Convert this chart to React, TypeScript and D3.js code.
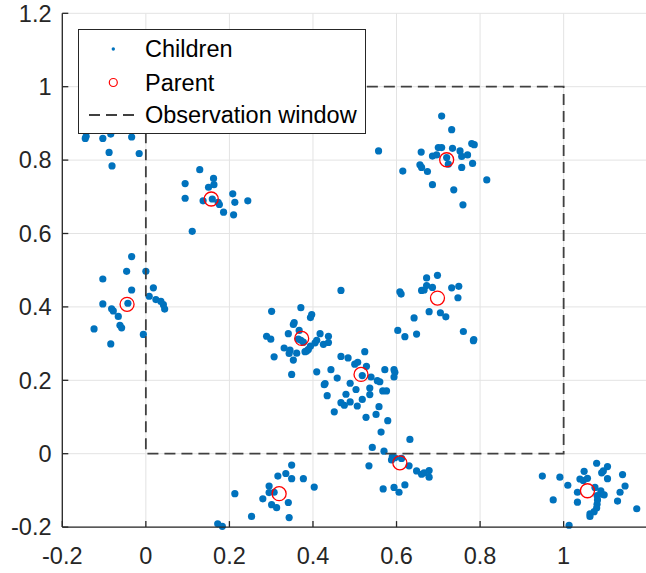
import React from "react";
import * as d3 from "d3";

// ---- data ----
const xTicks = [-0.2, 0, 0.2, 0.4, 0.6, 0.8, 1, 1.2];
const xTickLabels = ["-0.2", "0", "0.2", "0.4", "0.6", "0.8", "1", ""];
const yTicks = [-0.2, 0, 0.2, 0.4, 0.6, 0.8, 1, 1.2];
const yTickLabels = ["-0.2", "0", "0.2", "0.4", "0.6", "0.8", "1", "1.2"];

const parents: [number, number][] = [
  [0.1565, 0.694], [-0.045, 0.407], [0.373, 0.314], [0.515, 0.216], [0.608, -0.025],
  [0.319, -0.109], [0.72, 0.801], [0.698, 0.424], [1.057, -0.101],
];

const clusterA: [number, number][] = [
  [-0.145, 0.859], [-0.143, 0.865], [-0.103, 0.859], [-0.084, 0.871], [-0.034, 0.863],
  [-0.088, 0.821], [-0.016, 0.818], [-0.081, 0.784],
];
const clusterB: [number, number][] = [
  [0.129, 0.774], [0.162, 0.75], [0.163, 0.733], [0.15, 0.726], [0.094, 0.736], [0.094, 0.696],
  [0.137, 0.689], [0.159, 0.694], [0.173, 0.685], [0.176, 0.679], [0.208, 0.708], [0.213, 0.685],
  [0.244, 0.689], [0.186, 0.658], [0.21, 0.651], [0.111, 0.606],
];
const clusterC: [number, number][] = [
  [-0.034, 0.537], [-0.046, 0.497], [0.0, 0.497], [-0.103, 0.476], [-0.034, 0.446], [0.018, 0.452],
  [0.008, 0.429], [0.024, 0.42], [0.036, 0.415], [0.042, 0.406], [0.045, 0.394], [-0.103, 0.408],
  [-0.043, 0.41], [-0.082, 0.395], [-0.078, 0.389], [-0.066, 0.374], [-0.062, 0.35], [-0.058, 0.343],
  [-0.124, 0.34], [-0.006, 0.325], [-0.084, 0.299],
];
const clusterD: [number, number][] = [
  [0.467, 0.445], [0.301, 0.388], [0.371, 0.398], [0.397, 0.379], [0.394, 0.371], [0.355, 0.357],
  [0.353, 0.352], [0.289, 0.32], [0.299, 0.312], [0.341, 0.327], [0.367, 0.336], [0.365, 0.312],
  [0.371, 0.309], [0.417, 0.327], [0.437, 0.32], [0.409, 0.309], [0.405, 0.302], [0.425, 0.298],
  [0.437, 0.303], [0.394, 0.293], [0.389, 0.284], [0.381, 0.278], [0.331, 0.288], [0.345, 0.282],
  [0.343, 0.273], [0.361, 0.274], [0.307, 0.264], [0.353, 0.255], [0.349, 0.216], [0.377, 0.304],
  [0.385, 0.28],
];
const clusterE: [number, number][] = [
  [0.467, 0.265], [0.484, 0.261], [0.524, 0.278], [0.5, 0.244], [0.507, 0.249], [0.528, 0.238],
  [0.518, 0.213], [0.409, 0.223], [0.443, 0.229], [0.458, 0.206], [0.429, 0.191], [0.427, 0.188],
  [0.489, 0.192], [0.539, 0.209], [0.554, 0.199], [0.56, 0.196], [0.572, 0.229], [0.594, 0.229],
  [0.596, 0.222], [0.594, 0.209], [0.503, 0.175], [0.536, 0.179], [0.567, 0.171], [0.576, 0.171],
  [0.434, 0.158], [0.479, 0.162], [0.518, 0.148], [0.536, 0.161], [0.467, 0.139], [0.475, 0.132],
  [0.489, 0.141], [0.506, 0.13], [0.558, 0.128], [0.451, 0.114], [0.551, 0.107], [0.527, 0.099],
  [0.579, 0.09], [0.563, 0.059],
];
const clusterF: [number, number][] = [
  [0.632, 0.039], [0.542, 0.017], [0.57, 0.007], [0.59, -0.008], [0.588, -0.017], [0.596, -0.011],
  [0.612, -0.013], [0.534, -0.033], [0.63, -0.033], [0.648, -0.047], [0.66, -0.056], [0.666, -0.052],
  [0.678, -0.046], [0.678, -0.064], [0.62, -0.085], [0.594, -0.092], [0.568, -0.096], [0.606, -0.105],
];
const clusterG: [number, number][] = [
  [0.349, -0.031], [0.335, -0.054], [0.316, -0.061], [0.349, -0.068], [0.377, -0.068], [0.295, -0.088],
  [0.295, -0.106], [0.307, -0.105], [0.403, -0.091], [0.213, -0.109], [0.28, -0.123], [0.301, -0.139],
  [0.313, -0.147], [0.341, -0.133], [0.253, -0.171], [0.343, -0.174], [0.172, -0.191], [0.183, -0.198],
];
const clusterH: [number, number][] = [
  [0.708, 0.92], [0.732, 0.883], [0.557, 0.825], [0.659, 0.822], [0.7, 0.834], [0.708, 0.834],
  [0.734, 0.832], [0.752, 0.825], [0.756, 0.81], [0.77, 0.814], [0.78, 0.845], [0.786, 0.842],
  [0.686, 0.811], [0.696, 0.814], [0.72, 0.807], [0.724, 0.789], [0.656, 0.787], [0.66, 0.78],
  [0.674, 0.769], [0.615, 0.77], [0.756, 0.78], [0.782, 0.791], [0.816, 0.746], [0.686, 0.733],
  [0.737, 0.719], [0.759, 0.678],
];
const clusterI: [number, number][] = [
  [0.672, 0.479], [0.698, 0.486], [0.672, 0.458], [0.66, 0.445], [0.666, 0.446], [0.686, 0.453],
  [0.732, 0.452], [0.749, 0.456], [0.747, 0.425], [0.608, 0.441], [0.611, 0.435], [0.678, 0.387],
  [0.705, 0.384], [0.718, 0.373], [0.642, 0.37], [0.603, 0.336], [0.62, 0.319], [0.648, 0.326],
  [0.76, 0.333], [0.785, 0.311], [0.784, 0.308],
];
const clusterJ: [number, number][] = [
  [0.949, -0.061], [0.991, -0.064], [1.01, -0.086], [0.975, -0.126], [1.033, -0.105], [1.033, -0.132],
  [1.079, -0.026], [1.049, -0.048], [1.039, -0.069], [1.047, -0.073], [1.057, -0.067], [1.075, -0.092],
  [1.091, -0.052], [1.095, -0.047], [1.105, -0.035], [1.105, -0.068], [1.141, -0.057], [1.147, -0.088],
  [1.135, -0.105], [1.129, -0.129], [1.175, -0.15], [1.089, -0.101], [1.091, -0.11], [1.097, -0.112],
  [1.08, -0.114], [1.081, -0.126], [1.08, -0.138], [1.079, -0.148], [1.073, -0.158], [1.063, -0.164],
  [1.063, -0.171], [1.013, -0.195],
];

const children = [
  ...clusterA, ...clusterB, ...clusterC, ...clusterD, ...clusterE,
  ...clusterF, ...clusterG, ...clusterH, ...clusterI, ...clusterJ,
];

const windowBox = { x0: 0, x1: 1, y0: 0, y1: 1 };
const legendLabels = ["Children", "Parent", "Observation window"];

const W = 646;
const H = 573;
const FONT = "'Liberation Sans', Arial, Helvetica, sans-serif";
const AX = "#262626";
const BLUE = "#0072BD";

export default function App() {
  const x = d3.scaleLinear().domain([-0.2, 1.2]).range([62.3, 647.2]);
  const y = d3.scaleLinear().domain([-0.2, 1.2]).range([527.1, 13.3]);
  const [x0, x1] = x.range();
  const [y0, y1] = y.range();

  const lx = 78.5, ly = 29.5, lw = 287, lh = 104;
  const rows = [49, 82.5, 115];

  return (
    <svg width={W} height={H} style={{ position: "absolute", left: 0, top: 0, background: "#fff" }}>
      <rect x={0} y={0} width={W} height={H} fill="#fff" />
      {/* grid */}
      <g stroke="#e3e3e3" strokeWidth={1}>
        {xTicks.map((t) => (
          <line key={"gx" + t} x1={x(t)} x2={x(t)} y1={y0} y2={y1} />
        ))}
        {yTicks.map((t) => (
          <line key={"gy" + t} x1={x0} x2={x1} y1={y(t)} y2={y(t)} />
        ))}
      </g>
      {/* children */}
      <g fill={BLUE}>
        {children.map((d, i) => (
          <circle key={"c" + i} cx={x(d[0])} cy={y(d[1])} r={3.6} />
        ))}
      </g>
      {/* parents */}
      <g fill="none" stroke="#ff0000" strokeWidth={1.3}>
        {parents.map((d, i) => (
          <circle key={"p" + i} cx={x(d[0])} cy={y(d[1])} r={7} />
        ))}
      </g>
      {/* observation window */}
      <rect
        x={x(windowBox.x0)}
        y={y(windowBox.y1)}
        width={x(windowBox.x1) - x(windowBox.x0)}
        height={y(windowBox.y0) - y(windowBox.y1)}
        fill="none"
        stroke="#404040"
        strokeWidth={1.8}
        strokeDasharray="11 6"
      />
      {/* axes */}
      <g stroke={AX} strokeWidth={1.3}>
        <line x1={x0} x2={x0} y1={y0} y2={y1} />
        <line x1={x0} x2={x1} y1={y0} y2={y0} />
        {xTicks.map((t) => (
          <line key={"tx" + t} x1={x(t)} x2={x(t)} y1={y0} y2={y0 - 6} />
        ))}
        {yTicks.map((t) => (
          <line key={"ty" + t} x1={x0} x2={x0 + 6} y1={y(t)} y2={y(t)} />
        ))}
      </g>
      <g fill={AX} fontFamily={FONT} fontSize={23.5}>
        {xTicks.map((t, i) =>
          xTickLabels[i] ? (
            <text key={"lx" + t} x={x(t)} y={564} textAnchor="middle">
              {xTickLabels[i]}
            </text>
          ) : null
        )}
        {yTicks.map((t, i) => (
          <text key={"ly" + t} x={51.5} y={y(t)} dy="0.35em" textAnchor="end">
            {yTickLabels[i]}
          </text>
        ))}
      </g>
      {/* legend */}
      <g>
        <rect x={lx} y={ly} width={lw} height={lh} fill="#fff" stroke={AX} strokeWidth={1} />
        <circle cx={113.3} cy={rows[0]} r={1.7} fill={BLUE} />
        <circle cx={113.3} cy={rows[1]} r={4} fill="none" stroke="#ff0000" strokeWidth={1.2} />
        <line x1={89} x2={138.5} y1={rows[2]} y2={rows[2]} stroke="#404040" strokeWidth={1.8} strokeDasharray="11 6" />
        {legendLabels.map((s, i) => (
          <text key={s} x={145} y={rows[i]} dy="0.35em" fontFamily={FONT} fontSize={23.5} fill="#000">
            {s}
          </text>
        ))}
      </g>
    </svg>
  );
}
